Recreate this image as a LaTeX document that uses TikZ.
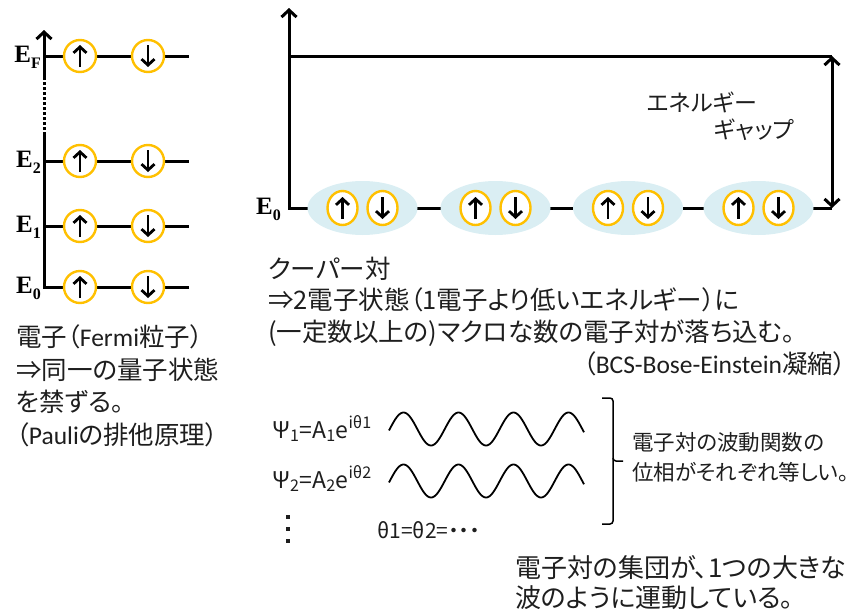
\documentclass[tikz,border=0pt]{standalone}
\usepackage{fontspec}
\setmainfont{Noto Sans CJK JP}[RawFeature=+palt]
\newfontfamily\tnr{Liberation Serif}
\newfontfamily\lat{Carlito}
\usetikzlibrary{arrows.meta,shapes.geometric}
\definecolor{gold}{RGB}{255,192,0}
\definecolor{pairblue}{RGB}{218,238,243}
\definecolor{ink}{RGB}{30,30,30}
\tikzset{
  lvl/.style={line width=3pt, line cap=butt},
  spinc/.style={circle, draw=gold, line width=2.4pt, fill=white, minimum size=32pt, inner sep=0pt},
  spine/.style={ellipse, draw=gold, line width=2.4pt, fill=white, minimum width=30pt, minimum height=34pt, inner sep=0pt},
  pairbg/.style={ellipse, fill=pairblue, minimum width=110pt, minimum height=54pt, inner sep=0pt},
  sarrow/.style={line width=2.8pt, -{Straight Barb[length=6pt,width=13pt]}},
  axisarrow/.style={line width=3pt, -{Straight Barb[length=7pt,width=15pt]}},
  gaparrow/.style={line width=3pt, {Straight Barb[length=7pt,width=15pt]}-{Straight Barb[length=7pt,width=15pt]}},
  elab/.style={font=\tnr\bfseries\fontsize{25}{25}\selectfont, anchor=east, inner sep=0pt},
  jtext/.style={font=\fontsize{25.5}{30}\selectfont, text=ink, anchor=base west, inner sep=0pt},
  jsmall/.style={font=\fontsize{23}{26}\selectfont, text=ink, anchor=base west, inner sep=0pt},
  psi/.style={font=\fontsize{23}{26}\selectfont, text=ink, anchor=base west, inner sep=0pt},
  wave/.style={line width=1.8pt, black},
  bracepath/.style={line width=1.5pt, black, rounded corners=3pt},
}
\newcommand{\Esub}[1]{E\raisebox{-6pt}{\fontsize{16}{16}\selectfont #1}}
\begin{document}
\begin{tikzpicture}[x=1pt,y=-1pt]
\useasboundingbox (0,0) rectangle (861,613);
% ---------------- left level diagram ----------------
\coordinate (axtop) at (44,30);
\coordinate (dotA) at (44,77);
\coordinate (dotB) at (44,135);
\foreach \n/\y in {0/287,1/226,2/161,F/56}{
  \coordinate (ax\n) at (44,\y);
  \coordinate (end\n) at (189,\y);
}
\draw[lvl] (end0) -- (ax0) -- (dotB);
\draw[line width=3pt, dash pattern=on 3pt off 2pt] (dotB) -- (dotA);
\draw[axisarrow] (dotA) -- (axtop);
\foreach \n in {1,2,F}{ \draw[lvl] (ax\n) -- (end\n); }
\foreach \n/\y in {0/287,1/226,2/161,F/56}{
  \node[spinc] (u\n) at (80,\y) {};
  \node[spinc] (d\n) at (148,\y) {};
  \draw[sarrow] ([yshift=-11pt]u\n.center) -- ([yshift=11pt]u\n.center);
  \draw[sarrow] ([yshift=11pt]d\n.center) -- ([yshift=-11pt]d\n.center);
  \node[elab] (E\n) at (41,\y+1) {\Esub{\n}};
}
% ---------------- right diagram ----------------
\coordinate (R0) at (289,208);
\coordinate (Rtop) at (289,8);
\coordinate (Rgap) at (289,56);
\coordinate (Rend) at (832,208);
\coordinate (Rgapend) at (832,56);
\draw[axisarrow] (Rend) -- (R0) -- (Rtop);
\draw[lvl] (Rgap) -- (Rgapend);
\draw[gaparrow] (Rgapend) -- (Rend);
\foreach \i/\x in {1/362.5,2/495.5,3/628,4/758.5}{
  \node[pairbg] (p\i) at (\x,208) {};
  \node[spine] (pu\i) at (\x-20,208) {};
  \node[spine] (pd\i) at (\x+20,208) {};
  \draw[sarrow] ([yshift=-11pt]pu\i.center) -- ([yshift=11pt]pu\i.center);
  \draw[sarrow] ([yshift=11pt]pd\i.center) -- ([yshift=-11pt]pd\i.center);
}
\node[elab] (ER0) at (281,209) {\Esub{0}};
\node[jsmall] (gap1) at (647,111) {エネルギー};
\node[jsmall] (gap2) at (714,138) {ギャップ};
% ---------------- texts ----------------
\node[jtext] (L1) at (16,346.5) {電子（{\lat Fermi}粒子）};
\node[jtext] (L2) at (16,379) {⇒同一の量子状態};
\node[jtext] (L3) at (16,411.5) {を禁ずる。};
\node[jtext] (L4) at (16,444) {（{\lat Pauli}の排他原理）};
\node[jtext] (C1) at (268,278.5) {クーパー対};
\node[jtext] (C2) at (268,309.5) {⇒2電子状態（1電子より低いエネルギー）に};
\node[jtext] (C3) at (268,341.5) {(一定数以上の)マクロな数の電子対が落ち込む。};
\node[jtext, anchor=base east] (C4) at (846,373) {（{\lat BCS-Bose-Einstein}凝縮）};
% ---------------- waves ----------------
\node[psi] (psi1) at (272,438) {Ψ\textsubscript{1}=A\textsubscript{1}e\textsuperscript{iθ1}};
\node[psi] (psi2) at (272,488) {Ψ\textsubscript{2}=A\textsubscript{2}e\textsuperscript{iθ2}};
\draw[wave] plot[domain=0:195, samples=160, smooth] ({389+\x}, {429 - 16.5*sin((\x/55)*360 - 5)});
\draw[wave] plot[domain=0:195, samples=160, smooth] ({389+\x}, {481 - 16.5*sin((\x/55)*360 - 5)});
\foreach \k/\yy in {1/517,2/529,3/541}{
  \fill[ink] (286,\yy-2) rectangle (290,\yy+2);
}
\node[psi, font=\fontsize{21}{24}\selectfont] (theta) at (377,538) {θ1=θ2=・・・};
% brace
\coordinate (brT) at (602,398);
\coordinate (brB) at (602,524);
\coordinate (brM) at (623,461);
\draw[bracepath] (brT) -- (613,398) -- (613,461) -- (brM);
\draw[bracepath] (613,458) -- (613,524) -- (brB);
\node[jsmall, font=\fontsize{21.5}{24}\selectfont] (ph1) at (632,450) {電子対の波動関数の};
\node[jsmall, font=\fontsize{21.5}{24}\selectfont] (ph2) at (632,480) {位相がそれぞれ等しい。};
\node[jtext, font=\fontsize{26}{30}\selectfont] (B1) at (515,577.5) {電子対の集団が、1つの大きな};
\node[jtext, font=\fontsize{26}{30}\selectfont] (B2) at (515,607.5) {波のように運動している。};
\end{tikzpicture}
\end{document}
